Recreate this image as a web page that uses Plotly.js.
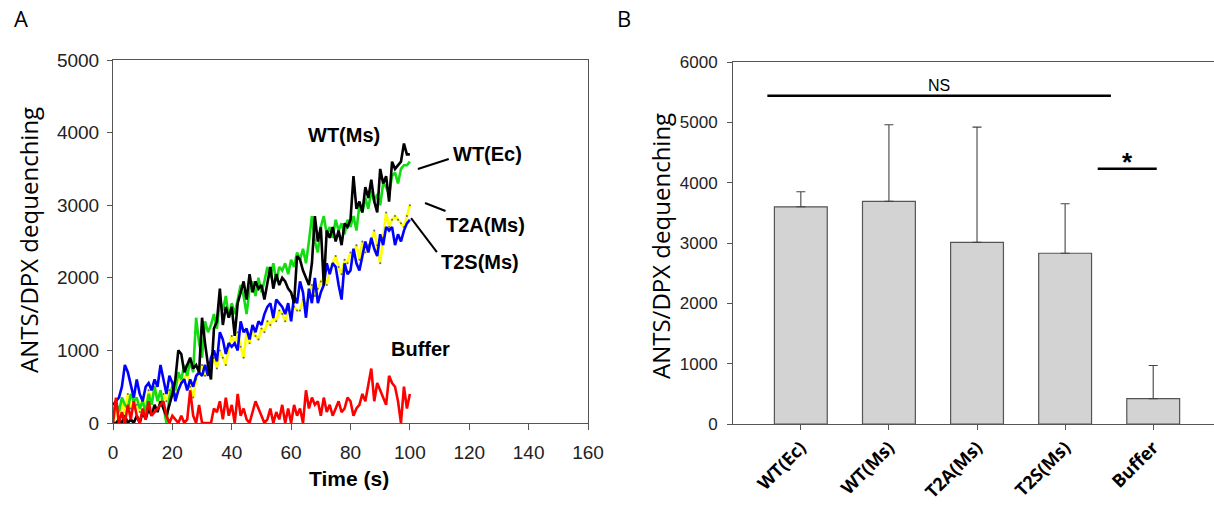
<!DOCTYPE html>
<html>
<head>
<meta charset="utf-8">
<script src="https://cdn.plot.ly/plotly-3.0.1.min.js"></script>
<style>html,body{margin:0;padding:0;background:#fff;}#chart{width:1214px;height:505px;}</style>
</head>
<body>
<div id="chart"></div>
<script>
// ---------- Panel A data (time course, 1 s steps, 0..100 s) ----------
const timeStart = 0, timeEnd = 100;
const time = [];
for (let t = timeStart; t <= timeEnd; t++) time.push(t);

const wtEc = [100,300,150,350,250,200,400,300,350,200,300,150,400,250,500,300,450,200,0,350,
  500,450,700,600,800,650,850,700,1450,1100,900,1400,1250,1350,1500,1300,1700,1550,1750,1450,
  1650,1500,1700,1900,1750,1500,1850,1950,1750,2000,1800,1950,2150,2000,2200,1950,2150,2100,2200,2050,
  2250,2150,2350,2250,2400,2200,2500,2850,2500,2350,2700,2850,2600,2700,2550,2800,2650,2750,2600,2800,
  2700,2850,2650,3000,2900,3100,2950,3200,3050,3150,3000,3300,3250,3150,3400,3450,3300,3500,3550,3550,3600];

const wtMs = [0,0,50,0,100,0,50,0,100,0,150,50,200,100,250,150,300,200,100,250,
  400,600,1000,950,700,800,900,750,800,700,1450,1100,800,600,1300,1400,1850,1350,1600,1450,
  1600,1200,1650,1800,1950,1700,2050,1800,1950,1850,1900,1700,1950,2150,1850,2050,1900,2000,1950,1850,
  1800,1650,2300,2250,2100,2000,1900,2200,2850,2500,2700,1900,2650,2550,2700,2500,2650,2450,2750,2700,
  2800,3400,2950,3050,2900,3250,3100,3350,3050,2900,3500,3300,3400,3050,3600,3500,3550,3600,3850,3700,3700];

const t2aMs = [0,200,0,300,100,400,200,300,250,150,350,200,450,300,500,350,250,400,300,450,
  500,400,650,550,600,700,500,350,600,700,800,650,750,800,900,750,1000,900,800,1050,
  1200,1100,1250,1050,900,1250,1100,1300,1200,1150,1300,1250,1400,1350,1450,1400,1550,1500,1400,1550,
  1500,1600,1550,1550,1700,1650,1750,1900,1750,1850,1950,2000,1900,2100,2200,2300,2150,2050,2250,2200,
  2350,2300,2450,2250,2500,2350,2450,2500,2650,2450,2200,2550,2900,2700,2800,2850,2800,2750,2700,2850,3000];

const t2sMs = [250,300,350,500,800,700,500,350,600,400,300,500,550,450,600,500,800,600,400,650,
  550,300,450,550,600,450,600,500,650,700,650,800,650,900,1000,850,1250,1150,950,1100,
  1050,1100,1000,1400,1250,1300,1150,1350,1250,1400,1350,1500,1600,1650,1450,1700,1650,1600,1500,1650,
  1400,1750,1650,1950,1800,1450,1850,1650,2000,1650,1800,1900,2200,2050,2200,2150,1900,1700,2200,2050,
  2100,2400,2200,2100,2300,2500,2350,2550,2400,2300,2600,2450,2700,2650,2700,2450,2600,2500,2650,2750,2800];

const buffer = [0,350,0,150,0,250,50,300,100,0,200,50,300,100,150,200,250,300,100,0,
  100,50,0,100,0,50,450,100,0,250,0,0,0,0,200,150,300,50,350,100,
  250,0,400,100,200,50,0,150,300,200,100,0,50,200,0,150,50,250,0,200,
  0,250,100,200,0,450,200,350,250,300,100,350,150,250,100,200,300,150,200,350,
  300,100,200,250,400,300,550,750,300,550,450,350,250,650,550,500,300,0,500,200,400];

// ---------- Panel B data (bar chart) ----------
const categories = ["WT(Ec)", "WT(Ms)", "T2A(Ms)", "T2S(Ms)", "Buffer"];
const meanValues = [3600, 3690, 3010, 2830, 420];
const errorPlus = [250, 1270, 1910, 820, 550];

// significance markers (data coordinates of panel B)
const nsBar = {x0: -0.38, x1: 3.52, y: 5440};
const starBar = {x0: 3.37, x1: 4.04, y: 4230};

// label positions for panel A (data coordinates)
const seriesLabels = [
  {text: "WT(Ms)", x: 77.7, y: 3966},
  {text: "WT(Ec)", x: 126.3, y: 3705},
  {text: "T2A(Ms)", x: 125.6, y: 2727},
  {text: "T2S(Ms)", x: 123.6, y: 2217},
  {text: "Buffer", x: 103.7, y: 1019}
];
const pointerLines = [
  {x0: 102.7, y0: 3499, x1: 113.1, y1: 3636},
  {x0: 105.1, y0: 3030, x1: 112.0, y1: 2920},
  {x0: 100.4, y0: 2823, x1: 109.1, y1: 2355}
];

const W = 1214, H = 505;
const px = v => v / W;
const py = v => 1 - v / H;

const lineW = 2.6;
const traces = [
  {x: time, y: t2aMs, type: "scatter", mode: "lines+markers", line: {color: "#ffff00", width: lineW},
   marker: {size: 2, color: "#666"}, xaxis: "x", yaxis: "y", showlegend: false},
  {x: time, y: wtEc, type: "scatter", mode: "lines", line: {color: "#11dd11", width: lineW}, xaxis: "x", yaxis: "y", showlegend: false},
  {x: time, y: t2sMs, type: "scatter", mode: "lines", line: {color: "#0000ff", width: lineW}, xaxis: "x", yaxis: "y", showlegend: false},
  {x: time, y: wtMs, type: "scatter", mode: "lines", line: {color: "#000000", width: lineW}, xaxis: "x", yaxis: "y", showlegend: false},
  {x: time, y: buffer, type: "scatter", mode: "lines", line: {color: "#ff0000", width: lineW}, xaxis: "x", yaxis: "y", showlegend: false},
  {x: categories, y: meanValues, type: "bar", xaxis: "x2", yaxis: "y2", showlegend: false,
   width: 0.6,
   marker: {color: "#d3d3d3", line: {color: "#555555", width: 1.2}},
   error_y: {type: "data", symmetric: false, array: errorPlus, arrayminus: errorPlus.map(() => 0),
     color: "#444444", thickness: 1.1, width: 4.5}}
];

const tickFontA = {family: "Liberation Sans, Arial, sans-serif", size: 19, color: "#222"};
const tickFontB = {family: "Liberation Sans, Arial, sans-serif", size: 17, color: "#222"};

const annotations = [];
seriesLabels.forEach(l => annotations.push({
  text: "<b>" + l.text + "</b>", x: l.x, y: l.y, xref: "x", yref: "y", showarrow: false,
  xanchor: "center", yanchor: "middle",
  font: {family: "Liberation Sans, Arial, sans-serif", size: 20, color: "#000"}
}));
annotations.push(
  {text: "A", x: px(21), y: py(18), xref: "paper", yref: "paper", showarrow: false, xanchor: "center", yanchor: "middle",
   font: {family: "Open Sans, sans-serif", size: 22, color: "#000"}},
  {text: "B", x: px(624), y: py(18), xref: "paper", yref: "paper", showarrow: false, xanchor: "center", yanchor: "middle",
   font: {family: "Open Sans, sans-serif", size: 22, color: "#000"}},
  {text: "ANTS/DPX dequenching", x: px(28), y: py(240), xref: "paper", yref: "paper", showarrow: false, textangle: -90,
   xanchor: "center", yanchor: "middle", font: {family: "Open Sans, sans-serif", size: 24, color: "#000"}},
  {text: "ANTS/DPX dequenching", x: px(660), y: py(246), xref: "paper", yref: "paper", showarrow: false, textangle: -90,
   xanchor: "center", yanchor: "middle", font: {family: "Open Sans, sans-serif", size: 24, color: "#000"}},
  {text: "<b>Time (s)</b>", x: px(349), y: py(478), xref: "paper", yref: "paper", showarrow: false,
   xanchor: "center", yanchor: "middle", font: {family: "Liberation Sans, Arial, sans-serif", size: 21, color: "#000"}},
  {text: "NS", x: (nsBar.x0 + nsBar.x1) / 2, y: nsBar.y, xref: "x2", yref: "y2", showarrow: false,
   xanchor: "center", yanchor: "bottom", yshift: 0, font: {family: "Liberation Sans, Arial, sans-serif", size: 16, color: "#000"}},
  {text: "<b>*</b>", x: (starBar.x0 + starBar.x1) / 2, y: starBar.y, xref: "x2", yref: "y2", showarrow: false,
   xanchor: "center", yanchor: "bottom", yshift: -10, font: {family: "Liberation Sans, Arial, sans-serif", size: 26, color: "#000"}}
);

const shapes = [];
pointerLines.forEach(p => shapes.push({type: "line", xref: "x", yref: "y", x0: p.x0, y0: p.y0, x1: p.x1, y1: p.y1,
  line: {color: "#000", width: 2}}));
shapes.push(
  {type: "line", xref: "x2", yref: "y2", x0: nsBar.x0, x1: nsBar.x1, y0: nsBar.y, y1: nsBar.y, line: {color: "#000", width: 2.6}},
  {type: "line", xref: "x2", yref: "y2", x0: starBar.x0, x1: starBar.x1, y0: starBar.y, y1: starBar.y, line: {color: "#000", width: 2.6}}
);

const layout = {
  width: W, height: H,
  margin: {l: 0, r: 0, t: 0, b: 0},
  paper_bgcolor: "#fff", plot_bgcolor: "#fff",
  showlegend: false,
  xaxis: {domain: [px(113), px(588)], range: [0, 160], dtick: 20, tick0: 0, showgrid: false, zeroline: false,
    showline: true, linecolor: "#555", linewidth: 1, mirror: true, ticks: "outside", ticklen: 6, tickcolor: "#555",
    tickfont: tickFontA, ticklabelstandoff: 6, anchor: "y", fixedrange: true},
  yaxis: {domain: [py(423), py(60)], range: [0, 5000], dtick: 1000, tick0: 0, showgrid: false, zeroline: false,
    showline: true, linecolor: "#555", linewidth: 1, mirror: true, ticks: "outside", ticklen: 5, tickcolor: "#555",
    tickfont: tickFontA, ticklabelstandoff: 4, anchor: "x", fixedrange: true},
  xaxis2: {domain: [px(733), 1], range: [-0.77, 4.69], type: "category", showgrid: false, zeroline: false,
    showline: true, linecolor: "#555", linewidth: 1, mirror: true, ticks: "outside", ticklen: 5, tickcolor: "#555",
    tickangle: -45, tickfont: {family: "Open Sans, sans-serif", size: 18, color: "#000", weight: "bold"},
    ticklabelstandoff: 0, anchor: "y2", fixedrange: true},
  yaxis2: {domain: [py(424), py(62)], range: [0, 6000], dtick: 1000, tick0: 0, showgrid: false, zeroline: false,
    showline: true, linecolor: "#555", linewidth: 1, ticks: "outside", ticklen: 5, tickcolor: "#555",
    tickfont: tickFontB, ticklabelstandoff: 6, anchor: "x2", fixedrange: true},
  annotations: annotations,
  shapes: shapes
};

Plotly.newPlot("chart", traces, layout, {staticPlot: true, displayModeBar: false});
</script>
</body>
</html>
